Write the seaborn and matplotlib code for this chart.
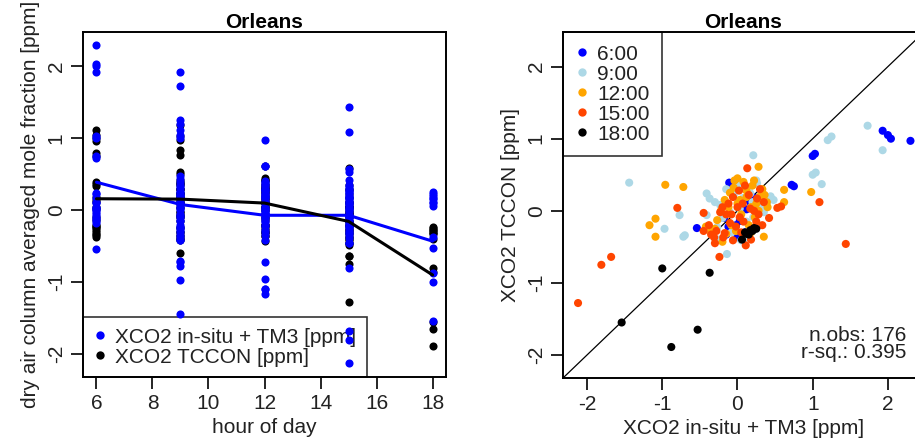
import matplotlib
matplotlib.use("Agg")
import matplotlib.pyplot as plt
from matplotlib.lines import Line2D
import pandas as pd
import seaborn as sns

# ---------------------------------------------------------------
# Orleans: column-averaged CO2 anomalies, in-situ + TM3 vs TCCON
# ---------------------------------------------------------------
hours = [6, 9, 12, 15, 18]
hour_labels = ["6:00", "9:00", "12:00", "15:00", "18:00"]
hour_colors = ["#0000FF", "#ADD8E6", "#FFA500", "#FF4500", "#000000"]

# paired observations per hour of day [ppm]
insitu_06 = [2.30, 2.04, 2.00, 1.93, 1.03, 1.00, 0.75, 0.72, -0.11, 0.17, 0.03, -0.54, -0.05,
             0.00, 0.02, -0.08, -0.12, 0.10, -0.15, 0.22, 0.05, -0.18, 0.24, -0.02, 0.12]
tccon_06 = [0.97, 1.00, 1.05, 1.11, 0.79, 0.76, 0.34, 0.36, 0.39, 0.12, -0.14, -0.24, -0.25,
            -0.35, -0.37, -0.28, -0.22, -0.30, -0.33, 0.18, 0.05, -0.10, 0.14, -0.20, 0.02]

insitu_09 = [1.93, 1.73, 1.25, 1.20, 1.04, 1.12, 1.00, 0.21, -1.44, -0.97, -0.77, -0.72, -0.70,
             -0.14, 0.05, 0.44, -0.41, -0.37, 0.26, 0.17, 0.32, -0.23, -0.41, -0.10, 0.10,
             0.21, 0.39, 0.03, -0.27, 0.25, -0.30, 0.15, 0.48, -0.05, 0.12, -0.20, 0.30,
             -0.35, 0.35, 0.00, -0.15, 0.20, -0.08, 0.08, -0.25]
tccon_09 = [0.84, 1.18, 1.03, 0.98, 0.53, 0.37, 0.50, 0.77, 0.39, -0.25, -0.06, -0.36, -0.34,
            -0.60, -0.41, 0.20, 0.24, 0.17, 0.38, 0.24, 0.29, 0.08, -0.06, -0.02, -0.38,
            -0.09, 0.10, 0.03, -0.23, 0.42, 0.12, 0.30, 0.15, 0.22, -0.15, -0.10, 0.05,
            -0.30, -0.02, 0.35, 0.30, 0.12, -0.30, 0.18, -0.40]

insitu_12 = [-0.96, -0.72, -1.09, -1.17, -1.09, 0.28, 0.62, 0.62, 0.98, 0.35, -0.20, -0.04,
             0.00, -0.27, -0.17, 0.03, 0.12, 0.39, 0.23, 0.10, -0.10, 0.30, 0.18, -0.30,
             0.05, -0.12, 0.20, 0.40, -0.05, 0.15, -0.22, 0.08, 0.33, -0.35, 0.25, -0.08,
             0.00, 0.12, -0.15, 0.36, -0.42, 0.22, -0.02, 0.18, 0.28]
tccon_12 = [0.36, 0.33, -0.11, -0.20, -0.36, 0.61, 0.29, 0.12, 0.26, -0.36, -0.43, 0.42,
            0.45, -0.13, 0.15, 0.15, 0.19, 0.12, -0.09, 0.30, 0.25, 0.20, 0.05, -0.25,
            -0.05, 0.05, 0.35, 0.05, 0.32, -0.20, 0.00, 0.40, 0.30, -0.30, 0.10, -0.20,
            0.10, 0.28, -0.32, 0.22, -0.22, 0.42, -0.28, -0.30, 0.00]

insitu_15 = [1.44, 1.09, -2.12, -1.81, -1.68, -0.80, -0.45, 0.13, 0.53, 0.42, 0.11, -0.24,
             -0.31, -0.23, -0.10, -0.17, -0.19, -0.06, 0.17, 0.03, -0.06, 0.26, 0.07, 0.58,
             0.33, -0.28, 0.20, 0.00, -0.12, 0.30, 0.05, -0.38, 0.15, -0.02, 0.22, -0.15,
             0.10, -0.30, 0.25, -0.08, -0.35, 0.18, 0.35, -0.45, 0.02, -0.20, 0.28, 0.08]
tccon_15 = [-0.46, 0.12, -1.28, -0.75, -0.64, 0.04, -0.03, 0.59, 0.04, -0.10, -0.48, -0.64,
            -0.37, -0.02, -0.17, -0.31, -0.37, -0.41, 0.03, -0.09, 0.19, 0.17, 0.10, 0.06,
            -0.20, -0.28, -0.25, 0.05, 0.10, 0.30, -0.30, -0.20, 0.22, -0.22, 0.00, -0.05,
            0.35, -0.45, -0.15, -0.05, -0.33, -0.40, 0.12, -0.28, 0.28, 0.05, -0.05, -0.15]

insitu_18 = [0.25, 0.22, 0.17, 0.12, 0.06, 0.20, -0.37, -0.53, -0.88, -1.00, -1.54, 0.10, 0.15]
tccon_18 = [-0.25, -0.24, -0.27, -0.32, -0.40, -0.28, -0.86, -1.65, -1.89, -0.80, -1.55, -0.30, -0.33]

# hourly means drawn as lines in the diurnal panel
mean_insitu = [0.39, 0.08, -0.07, -0.07, -0.43]
mean_tccon = [0.16, 0.155, 0.10, -0.155, -0.90]

n_obs_text = "n.obs: 176"
rsq_text = "r-sq.: 0.395"

insitu_by_hour = [insitu_06, insitu_09, insitu_12, insitu_15, insitu_18]
tccon_by_hour = [tccon_06, tccon_09, tccon_12, tccon_15, tccon_18]

rows = []
for h, lab, xs, ys in zip(hours, hour_labels, insitu_by_hour, tccon_by_hour):
    for xv, yv in zip(xs, ys):
        rows.append({"hour": h, "label": lab, "insitu": xv, "tccon": yv})
obs = pd.DataFrame(rows)
means = pd.DataFrame({"hour": hours, "insitu": mean_insitu, "tccon": mean_tccon})

sns.set_theme(style="ticks")
plt.rcParams["font.family"] = ["Liberation Sans", "DejaVu Sans"]
plt.rcParams.update({
    "font.size": 15,
    "axes.unicode_minus": False,
    "axes.linewidth": 1.4,
    "xtick.major.size": 8.5,
    "ytick.major.size": 8.5,
    "xtick.major.width": 1.2,
    "ytick.major.width": 1.2,
    "xtick.color": "black",
    "ytick.color": "black",
    "axes.edgecolor": "black",
    "text.color": "black",
    "axes.labelcolor": "#222222",
    "xtick.labelcolor": "#222222",
    "ytick.labelcolor": "#222222",
})

W, H = 915, 444
fig = plt.figure(figsize=(W / 100, H / 100), dpi=100)


def px_axes(x0, y0, x1, y1):
    return fig.add_axes([x0 / W, 1 - y1 / H, (x1 - x0) / W, (y1 - y0) / H])


def framed_legend(ax, handles, labels, loc, borderpad):
    # open legend box: thin black border, transparent fill, placed against the frame
    leg = ax.legend(handles, labels, loc=loc, borderaxespad=0, fancybox=False,
                    edgecolor="black", fontsize=15, handlelength=0.6,
                    handletextpad=0.45, labelspacing=0.05, borderpad=borderpad)
    leg.get_frame().set_linewidth(1.2)
    leg.get_frame().set_facecolor("none")
    leg.set_zorder(1)
    for t in leg.get_texts():
        t.set_color("#222222")
    return leg


PT = 34  # marker area
MS = 6   # legend marker size

# ---------------- left: diurnal cycle ----------------
ax1 = px_axes(83, 32, 446, 377)
sns.scatterplot(data=obs, x="hour", y="tccon", color="black", s=PT, linewidth=0,
                marker="o", ax=ax1, legend=False, zorder=2)
sns.scatterplot(data=obs, x="hour", y="insitu", color="#0000FF", s=PT, linewidth=0,
                marker="o", ax=ax1, legend=False, zorder=3)
sns.lineplot(data=means, x="hour", y="insitu", color="#0000FF", lw=2.2, ax=ax1,
             legend=False, zorder=4)
sns.lineplot(data=means, x="hour", y="tccon", color="black", lw=2.2, ax=ax1,
             legend=False, zorder=5)
ax1.set_xlim(5.52, 18.48)
ax1.set_ylim(-2.32, 2.48)
ax1.set_xticks([6, 8, 10, 12, 14, 16, 18])
ax1.set_yticks([-2, -1, 0, 1, 2])
ax1.set_xlabel("hour of day", fontsize=15, labelpad=3)
ax1.set_ylabel("dry air column averaged mole fraction [ppm]", fontsize=15, labelpad=5)
ax1.set_title("Orleans", fontsize=15, fontweight="bold", pad=2)
for lbl in ax1.get_yticklabels():
    lbl.set_rotation(90)
    lbl.set_va("center")
ax1.tick_params(axis="both", labelsize=15, pad=4)

h_ins = Line2D([], [], ls="none", marker="o", ms=MS, color="#0000FF", mec="none")
h_tcc = Line2D([], [], ls="none", marker="o", ms=MS, color="black", mec="none")
framed_legend(ax1, [h_ins, h_tcc], ["XCO2 in-situ + TM3 [ppm]", "XCO2 TCCON [ppm]"],
              "lower left", 0.5)

# ---------------- right: scatter of both columns ----------------
ax2 = px_axes(563, 32, 924, 378)
sns.scatterplot(data=obs, x="insitu", y="tccon", hue="label", hue_order=hour_labels,
                palette=hour_colors, s=PT, linewidth=0, marker="o", ax=ax2,
                legend=False, zorder=3)
ax2.axline((0, 0), slope=1, color="black", lw=0.9, zorder=2)
ax2.set_xlim(-2.32, 2.48)
ax2.set_ylim(-2.32, 2.48)
ax2.set_xticks([-2, -1, 0, 1, 2])
ax2.set_yticks([-2, -1, 0, 1, 2])
ax2.set_xlabel("XCO2 in-situ + TM3 [ppm]", fontsize=15, labelpad=3)
ax2.set_ylabel("XCO2 TCCON [ppm]", fontsize=15, labelpad=5)
ax2.set_title("Orleans", fontsize=15, fontweight="bold", pad=2)
for lbl in ax2.get_yticklabels():
    lbl.set_rotation(90)
    lbl.set_va("center")
ax2.tick_params(axis="both", labelsize=15, pad=4)

handles = [Line2D([], [], ls="none", marker="o", ms=MS, color=c, mec="none")
           for c in hour_colors]
framed_legend(ax2, handles, hour_labels, "upper left", 0.6)

ax2.text(2.24, -1.85, n_obs_text + "\n" + rsq_text, ha="right", va="center",
         fontsize=15, linespacing=0.85, color="#222222")

fig.savefig("out.png", dpi=100)
